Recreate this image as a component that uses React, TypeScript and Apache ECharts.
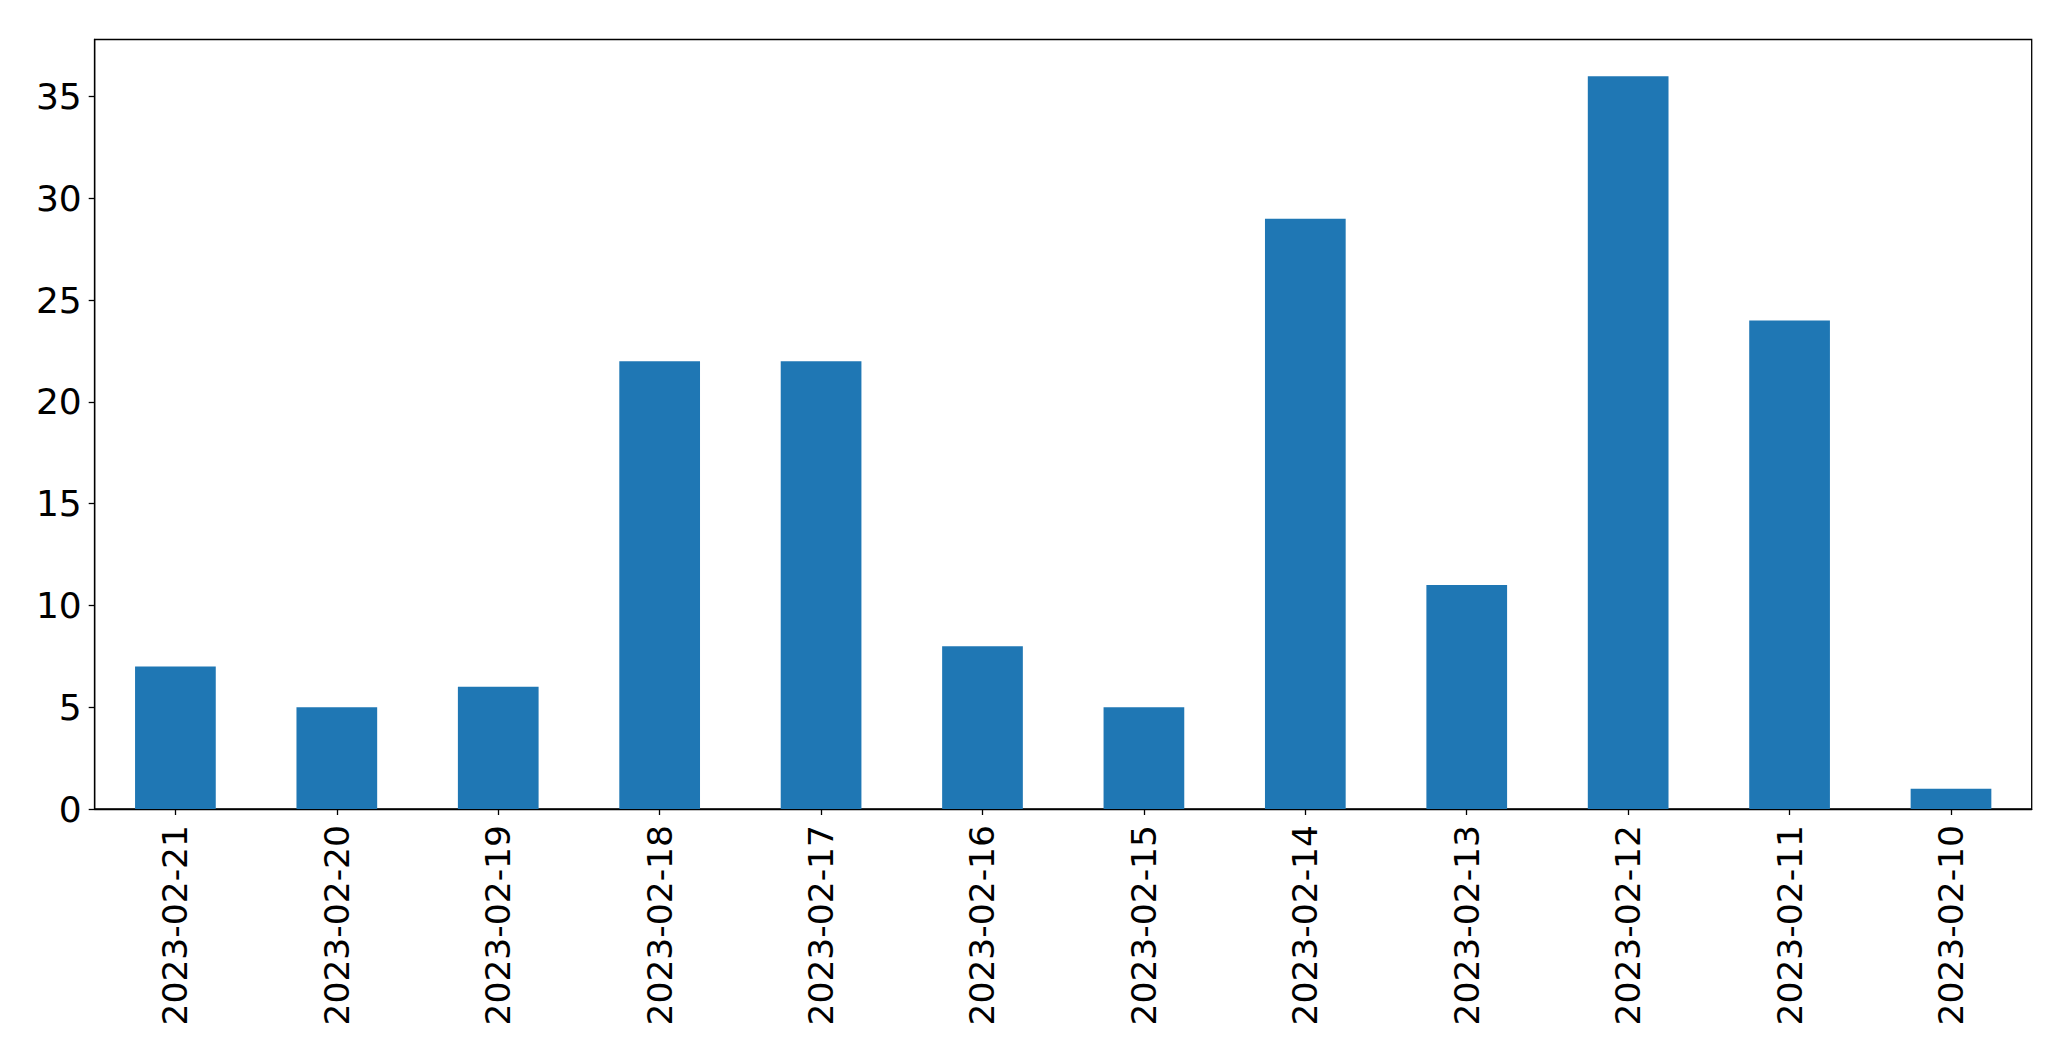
import React, { useEffect, useRef } from "react";
import * as echarts from "echarts";

const categories = [
  "2023-02-21", "2023-02-20", "2023-02-19", "2023-02-18", "2023-02-17", "2023-02-16",
  "2023-02-15", "2023-02-14", "2023-02-13", "2023-02-12", "2023-02-11", "2023-02-10",
];
const values = [7, 5, 6, 22, 22, 8, 5, 29, 11, 36, 24, 1];
const yMax = 37.8;

export default function App() {
  const ref = useRef<HTMLDivElement>(null);
  useEffect(() => {
    if (!ref.current) return;
    const chart = echarts.init(ref.current, null, { renderer: "svg" });
    const font = "DejaVu Sans";
    chart.setOption({
      animation: false,
      backgroundColor: "#fff",
      grid: {
        left: 94.7, right: 39.3, top: 39.5, bottom: 252,
        show: true, borderColor: "#000", borderWidth: 1.3, backgroundColor: "transparent",
      },
      xAxis: {
        type: "category",
        data: categories,
        axisLine: { show: true, lineStyle: { color: "#000", width: 1.3 } },
        axisTick: { show: true, alignWithLabel: true, length: 6, lineStyle: { color: "#000", width: 1.3 } },
        axisLabel: { rotate: 90, color: "#000", fontSize: 34.5, fontFamily: font, margin: 16 },
      },
      yAxis: {
        type: "value",
        min: 0, max: yMax, interval: 5,
        splitLine: { show: false },
        axisLine: { show: true, lineStyle: { color: "#000", width: 1.3 } },
        axisTick: { show: true, length: 6, lineStyle: { color: "#000", width: 1.3 } },
        axisLabel: {
          color: "#000", fontSize: 36, fontFamily: font, margin: 13,
          showMaxLabel: false,
          formatter: (v: number) => (v % 5 === 0 ? String(v) : ""),
        },
      },
      series: [{
        type: "bar",
        data: values,
        barWidth: "50%",
        itemStyle: { color: "#1f77b4" },
      }],
    });
    return () => chart.dispose();
  }, []);
  return <div ref={ref} style={{ position: "fixed", left: 0, top: 0, width: 2071, height: 1061 }} />;
}
